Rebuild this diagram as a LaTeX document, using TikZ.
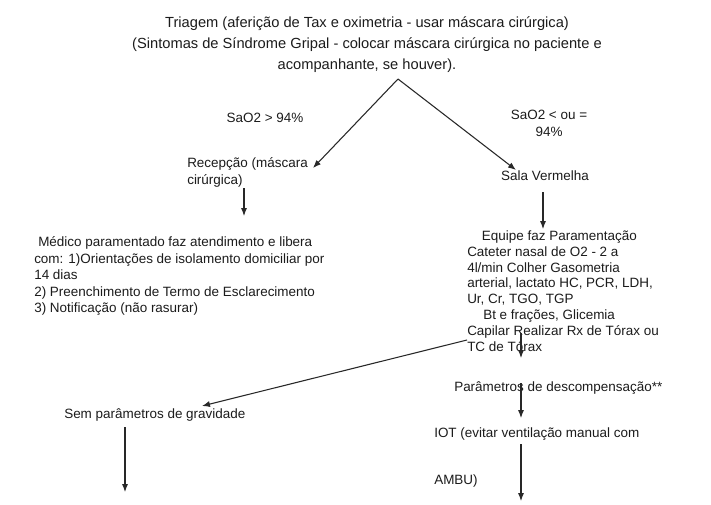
\documentclass[tikz,border=0pt]{standalone}
\usepackage{fontspec}
\setmainfont{Liberation Sans}
\usetikzlibrary{arrows.meta}
\definecolor{ink}{RGB}{28,28,28}
\definecolor{wire}{RGB}{40,40,40}
\begin{document}
\begin{tikzpicture}[x=0.75pt,y=-0.75pt,
  txt/.style={inner sep=0pt, text=ink, font=\fontsize{10.1}{12.4}\selectfont, align=left, anchor=north west},
  ttl/.style={inner sep=0pt, text=ink, font=\fontsize{11}{15.75}\selectfont, align=center, anchor=north},
  arr/.style={draw=wire, line width=0.8pt, -{Latex[length=6pt,width=4.6pt]}}]
\useasboundingbox[fill=white] (0,0) rectangle (711,504);

\node[ttl] (title) at (367,16) {Triagem (aferição de Tax e oximetria - usar máscara cirúrgica)\\
(Sintomas de Síndrome Gripal - colocar máscara cirúrgica no paciente e\\
acompanhante, se houver).};

\coordinate (apex) at (398,79);
\node[txt, anchor=center] (s1) at (265,118) {SaO2 > 94\%};
\node[txt, align=center, anchor=north, font=\fontsize{10.1}{12.75}\selectfont] (s2) at (549,109.5) {SaO2 < ou =\\94\%};

\node[txt, font=\fontsize{10.1}{12.75}\selectfont] (rec) at (187,157.5) {Recepção (máscara\\cirúrgica)};
\node[txt, anchor=center] (sala) at (545,176) {Sala Vermelha};

\node[txt] (med) at (34,236.5) {\hspace*{3pt}Médico paramentado faz atendimento e libera\\
com: 1)Orientações de isolamento domiciliar por\\
14 dias\\
2) Preenchimento de Termo de Esclarecimento\\
3) Notificação (não rasurar)};

\node[txt, font=\fontsize{10.1}{11.85}\selectfont] (equipe) at (467,230.5) {\hspace*{11pt}Equipe faz Paramentação\\
Cateter nasal de O2 - 2 a\\
4l/min Colher Gasometria\\
arterial, lactato HC, PCR, LDH,\\
Ur, Cr, TGO, TGP\\
\hspace*{12pt}Bt e frações, Glicemia\\
Capilar Realizar Rx de Tórax ou\\
TC de Tórax};

\node[txt] (sem) at (64,408.5) {Sem parâmetros de gravidade};
\node[txt] (par) at (454,381.5) {Parâmetros de descompensação**};
\node[txt] (iot) at (434,427.5) {IOT (evitar ventilação manual com};
\node[txt] (ambu) at (434,474.5) {AMBU)};

\coordinate (recin) at (313,168);
\coordinate (salain) at (516,170);
\coordinate (recout) at (244,188);
\coordinate (medin) at (244,216);
\coordinate (salaout) at (543,192);
\coordinate (equipein) at (543,229);
\coordinate (toraxout) at (521,333);
\coordinate (parin) at (521,358);
\coordinate (toraxleft) at (467,340);
\coordinate (semin) at (202,406);
\coordinate (semout) at (125,427);
\coordinate (semend) at (125,492);
\coordinate (parout) at (521,383);
\coordinate (iotin) at (521,418);
\coordinate (iotout) at (521,444);
\coordinate (iotend) at (521,501);

\draw[arr] (apex) -- (recin);
\draw[arr] (apex) -- (salain);
\draw[arr] (recout) -- (medin);
\draw[arr] (salaout) -- (equipein);
\draw[arr] (toraxout) -- (parin);
\draw[arr] (toraxleft) -- (semin);
\draw[arr] (semout) -- (semend);
\draw[arr] (parout) -- (iotin);
\draw[arr] (iotout) -- (iotend);
\end{tikzpicture}
\end{document}
